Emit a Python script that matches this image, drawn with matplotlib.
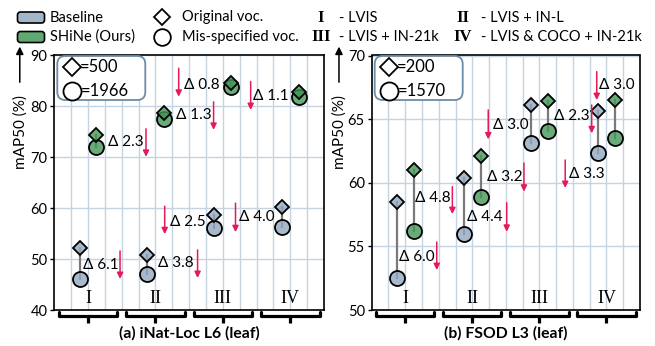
import matplotlib
matplotlib.use('Agg')
import matplotlib.pyplot as plt
import matplotlib.transforms as mtransforms
from matplotlib.patches import FancyBboxPatch
import numpy as np

plt.rcParams['font.family'] = ['Lato', 'DejaVu Sans']

# ---------------- data ----------------
groups = ['I', 'II', 'III', 'IV']
group_desc = ['LVIS', 'LVIS + IN-L', 'LVIS + IN-21k', 'LVIS & COCO + IN-21k']

inat_base_orig = [52.1, 50.8, 58.7, 60.3]
inat_base_mis = [46.0, 47.0, 56.2, 56.3]
inat_shine_orig = [74.4, 78.8, 84.6, 82.9]
inat_shine_mis = [72.1, 77.5, 83.8, 81.8]
inat_base_delta = ['6.1', '3.8', '2.5', '4.0']
inat_shine_delta = ['2.3', '1.3', '0.8', '1.1']

fsod_base_orig = [58.5, 60.4, 66.1, 65.6]
fsod_base_mis = [52.5, 56.0, 63.1, 62.3]
fsod_shine_orig = [61.0, 62.1, 66.4, 66.5]
fsod_shine_mis = [56.2, 58.9, 64.1, 63.5]
fsod_base_delta = ['6.0', '4.4', '3.0', '3.3']
fsod_shine_delta = ['4.8', '3.2', '2.3', '3.0']

inat_vocab = ['500', '1966']
fsod_vocab = ['200', '1570']

# ---------------- layout (annotation positions) ----------------
inat_base_lab = [(1.70, 48.8), (6.15, 49.3), (6.86, 57.3), (10.95, 58.3)]
inat_shine_lab = [(3.19, 73.1), (7.22, 78.3), (7.69, 84.2), (11.79, 82.1)]
inat_base_arr = [(3.9, 51.6, 46.1), (8.5, 51.8, 46.3), (6.55, 60.4, 54.9), (10.75, 61.0, 55.3)]
inat_shine_arr = [(5.44, 75.6, 70.1), (9.45, 80.9, 75.4), (7.38, 87.5, 81.9), (11.65, 84.9, 79.3)]

fsod_base_lab = [(1.63, 54.19), (5.68, 57.33), (7.23, 64.54), (11.77, 60.69)]
fsod_shine_lab = [(2.58, 58.80), (6.88, 60.48), (10.87, 65.27), (13.56, 67.68)]
fsod_base_arr = [(3.88, 55.34, 53.14), (8.05, 58.43, 56.15), (6.95, 65.72, 63.41), (11.54, 61.79, 59.59)]
fsod_shine_arr = [(4.81, 59.69, 57.54), (9.08, 61.55, 59.30), (13.12, 66.11, 63.89), (13.42, 68.73, 66.50)]

BASE = (0.57, 0.66, 0.75, 0.8)
GREEN = (0.27, 0.59, 0.35, 0.8)
BASE_SOLID = '#a3b7cb'
GREEN_SOLID = '#62a872'
GRID = '#c6d4e2'
RED = '#e31a5c'
BOXEDGE = '#6d8ca6'
SERIF = ['Liberation Serif', 'DejaVu Serif']

W, H = 655, 346
fig = plt.figure(figsize=(W / 100, H / 100), dpi=100)


def px_ax(x0, y0, x1, y1):
    return [x0 / W, 1 - y1 / H, (x1 - x0) / W, (y1 - y0) / H]


axL = fig.add_axes(px_ax(54.3, 55.5, 324, 310))
axR = fig.add_axes(px_ax(371.7, 55.5, 640, 310))
ov = fig.add_axes([0, 0, 1, 1], zorder=10)
ov.set_xlim(0, W)
ov.set_ylim(H, 0)
ov.axis('off')


def panel(ax, ylim, yticks, b_o, b_m, s_o, s_m, b_d, s_d, b_lab, s_lab, b_arr, s_arr,
          title, ylab_x):
    ax.set_xlim(0, 16)
    ax.set_ylim(*ylim)
    ax.set_yticks(yticks)
    ax.set_xticks([])
    ax.set_xticks(np.arange(1, 16), minor=True)
    ax.set_axisbelow(True)
    ax.grid(True, which='major', axis='y', color=GRID, lw=1.0)
    ax.grid(True, which='minor', axis='x', color=GRID, lw=1.0)
    ax.tick_params(axis='x', which='both', length=0)
    ax.tick_params(axis='y', length=3, width=1, pad=2, labelsize=10.5)
    for s in ax.spines.values():
        s.set_linewidth(1.2)
    xb = np.arange(len(groups)) * 4 + 1.5
    xs = xb + 1
    for xx, a, b in list(zip(xb, b_o, b_m)) + list(zip(xs, s_o, s_m)):
        ax.plot([xx, xx], [a, b], color='#7a7a7a', lw=1.6, zorder=2)
    ax.plot(xb, b_m, 'o', ms=10.8, mfc=BASE, mec='k', mew=1.3, ls='none', zorder=3)
    ax.plot(xb, b_o, 'D', ms=6.8, mfc=BASE, mec='k', mew=1.3, ls='none', zorder=4)
    ax.plot(xs, s_m, 'o', ms=10.8, mfc=GREEN, mec='k', mew=1.3, ls='none', zorder=3)
    ax.plot(xs, s_o, 'D', ms=6.8, mfc=GREEN, mec='k', mew=1.3, ls='none', zorder=4)
    for (lx, ly), d in list(zip(b_lab, b_d)) + list(zip(s_lab, s_d)):
        ax.text(lx, ly, '\u0394 ' + d, ha='left', va='center', fontsize=11, zorder=5)
    for ax_, y0, y1 in b_arr + s_arr:
        ax.annotate('', xy=(ax_, y1), xytext=(ax_, y0),
                    arrowprops=dict(arrowstyle='-|>', color=RED, lw=1.1,
                                    mutation_scale=9, shrinkA=0, shrinkB=0), zorder=5)
    tr = mtransforms.blended_transform_factory(ax.transData, ax.transAxes)
    for g, name in enumerate(groups):
        c = g * 4 + 2
        ax.text(c, 0.047, name, transform=tr, ha='center', va='center',
                family=SERIF, fontsize=13)
        x0, x1 = g * 4 + 0.26, g * 4 + 3.74
        ax.plot([x0, x0, x1, x1], [-0.008, -0.024, -0.024, -0.008], transform=tr,
                color='k', lw=2.3, clip_on=False, solid_joinstyle='round',
                solid_capstyle='round')
        ax.plot([c, c], [-0.024, -0.05], transform=tr, color='k', lw=2.3,
                clip_on=False, solid_capstyle='butt')
    ax.text(0.5, -0.092, title, transform=ax.transAxes, ha='center', va='center',
            fontsize=11.3, fontweight='bold')
    ax.text(ylab_x, 0.70, 'mAP50 (%)', transform=ax.transAxes, rotation=90,
            ha='center', va='center', fontsize=11)
    ax.annotate('', xy=(ylab_x - 0.004, 1.035), xytext=(ylab_x - 0.004, 0.895),
                xycoords='axes fraction', textcoords='axes fraction',
                arrowprops=dict(arrowstyle='-|>', color='k', lw=1.1,
                                mutation_scale=11, shrinkA=0, shrinkB=0),
                annotation_clip=False)


panel(axL, (40, 90), [40, 50, 60, 70, 80, 90], inat_base_orig, inat_base_mis,
      inat_shine_orig, inat_shine_mis, inat_base_delta, inat_shine_delta,
      inat_base_lab, inat_shine_lab, inat_base_arr, inat_shine_arr,
      '(a) iNat-Loc L6 (leaf)', -0.124)
panel(axR, (50, 70), [50, 55, 60, 65, 70], fsod_base_orig, fsod_base_mis,
      fsod_shine_orig, fsod_shine_mis, fsod_base_delta, fsod_shine_delta,
      fsod_base_lab, fsod_shine_lab, fsod_base_arr, fsod_shine_arr,
      '(b) FSOD L3 (leaf)', -0.118)

# vocabulary size boxes inside the panels
for bx, vocab in ((54.3, inat_vocab), (371.7, fsod_vocab)):
    box = FancyBboxPatch((bx + 3, 56), 88, 44,
                         boxstyle='round,pad=0,rounding_size=8',
                         fc='white', ec=BOXEDGE, lw=1.3, zorder=1)
    ov.add_patch(box)
    ov.plot([bx + 17.5], [66.5], 'D', ms=9.5, mfc='white', mec='k', mew=1.3, zorder=2)
    ov.text(bx + 25, 67, '=' + vocab[0], ha='left', va='center', fontsize=12, zorder=3)
    ov.plot([bx + 17.5], [90.5], 'o', ms=13, mfc='white', mec='k', mew=1.3, zorder=2)
    ov.text(bx + 26, 91, '=' + vocab[1], ha='left', va='center', fontsize=12, zorder=3)

# top legend
for y, col, lab in ((17.5, BASE_SOLID, 'Baseline'), (37, GREEN_SOLID, 'SHiNe (Ours)')):
    ov.add_patch(FancyBboxPatch((17.5, y - 5.5), 27, 11,
                                boxstyle='round,pad=0,rounding_size=3',
                                fc=col, ec='k', lw=1.2))
    ov.text(50, y, lab, ha='left', va='center', fontsize=10.5)
ov.plot([162], [16.5], 'D', ms=8.5, mfc='white', mec='k', mew=1.3)
ov.text(182, 17.5, 'Original voc.', ha='left', va='center', fontsize=10.5)
ov.plot([162], [37], 'o', ms=12, mfc='white', mec='k', mew=1.3)
ov.text(182, 37, 'Mis-specified voc.', ha='left', va='center', fontsize=10.5)
pos = [(321, 17.5), (463, 17.5), (321, 37), (463, 37)]
for (x, y), g, d in zip(pos, groups, group_desc):
    ov.text(x, y, g, ha='center', va='center', family=SERIF, fontweight='bold',
            fontsize=12)
    ov.text(x + 18, y, '- ' + d, ha='left', va='center', fontsize=10.5)

fig.savefig('out.png', dpi=100)
